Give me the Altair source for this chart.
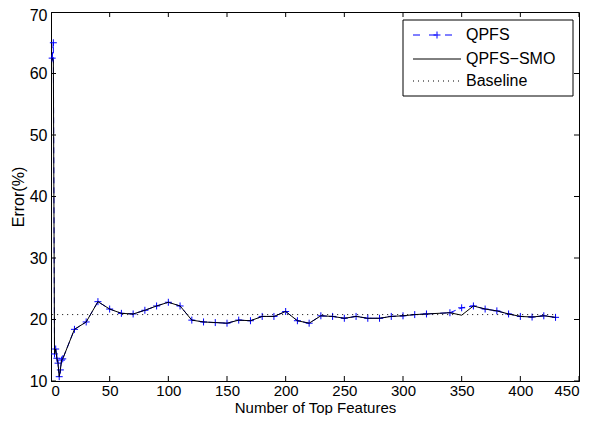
import altair as alt
import pandas as pd

# ---- data ----
features = [1, 2, 3, 4, 5, 6, 7, 8, 9, 10,
            20, 30, 40, 50, 60, 70, 80, 90, 100, 110,
            120, 130, 140, 150, 160, 170, 180, 190, 200, 210,
            220, 230, 240, 250, 260, 270, 280, 290, 300, 310, 320,
            340, 350, 360, 370, 380, 390, 400, 410, 420, 430]
qpfs = [62.5, 65.0, 14.4, 15.2, 13.7, 12.9, 10.7, 11.8, 13.4, 13.6,
        18.4, 19.6, 22.9, 21.7, 21.0, 20.9, 21.5, 22.2, 22.8, 22.2,
        19.9, 19.6, 19.5, 19.4, 19.9, 19.8, 20.5, 20.5, 21.3, 19.8,
        19.4, 20.6, 20.5, 20.2, 20.5, 20.2, 20.2, 20.5, 20.6, 20.8, 20.9,
        21.1, 21.9, 22.2, 21.7, 21.4, 20.9, 20.5, 20.4, 20.6, 20.35]
qpfs_smo = [62.5, 62.0, 14.4, 15.2, 13.7, 12.9, 10.7, 11.8, 13.4, 13.6,
            18.4, 19.6, 22.9, 21.7, 21.0, 20.9, 21.5, 22.2, 22.8, 22.2,
            19.9, 19.6, 19.5, 19.4, 19.9, 19.8, 20.5, 20.5, 21.3, 19.8,
            19.4, 20.6, 20.5, 20.2, 20.5, 20.2, 20.2, 20.5, 20.6, 20.8, 20.9,
            21.1, 20.7, 22.2, 21.7, 21.4, 20.9, 20.5, 20.4, 20.6, 20.35]
baseline_x = [1, 430]
baseline_y = [20.8, 20.8]
x_ticks = [0, 50, 100, 150, 200, 250, 300, 350, 400, 450]
y_ticks = [10, 20, 30, 40, 50, 60, 70]
legend_labels = ["QPFS", "QPFS\u2212SMO", "Baseline"]

FONT = "Liberation Sans"
W, H = 528, 369
PLUS = "M-1,0L1,0M0,-1L0,1"

df_q = pd.DataFrame({"x": features, "y": qpfs})
df_s = pd.DataFrame({"x": features, "y": qpfs_smo})
df_b = pd.DataFrame({"x": baseline_x, "y": baseline_y})

xs = alt.Scale(domain=[0, 450], nice=False)
ys = alt.Scale(domain=[10, 70], nice=False)
xax = alt.Axis(values=x_ticks, ticks=False, grid=False, title="Number of Top Features",
               labelPadding=2, titlePadding=2, labelFontSize=15, titleFontSize=15,
               domainColor="black")
yax = alt.Axis(values=y_ticks, ticks=False, grid=False, title="Error(%)",
               labelPadding=4, titlePadding=3, domainColor="black",
               labelOffset={"condition": {"test": "datum.value == 70", "value": 3}, "value": 0})

X = alt.X("x:Q", scale=xs, axis=xax)
Y = alt.Y("y:Q", scale=ys, axis=yax)

q_line = alt.Chart(df_q).mark_line(color="#0000ff", strokeWidth=1, strokeDash=[6, 4]).encode(x=X, y=Y)
q_pts = alt.Chart(df_q).mark_point(shape=PLUS, size=49, color="#0000ff", strokeWidth=1,
                                   filled=False, opacity=1).encode(x=X, y=Y)
s_line = alt.Chart(df_s).mark_line(color="black", strokeWidth=1).encode(x=X, y=Y)
b_line = alt.Chart(df_b).mark_line(color="black", strokeWidth=1, strokeDash=[1, 4]).encode(x=X, y=Y)

# inward ticks on all four sides (clipped half of centered ticks)
tb = pd.DataFrame({"x": x_ticks * 2, "y": [10] * len(x_ticks) + [70] * len(x_ticks)})
tl = pd.DataFrame({"y": y_ticks * 2, "x": [0] * len(y_ticks) + [450] * len(y_ticks)})
ticks_x = alt.Chart(tb).mark_tick(orient="vertical", size=10, thickness=1, color="black",
                                  clip=True, opacity=1).encode(x=X, y=Y)
ticks_y = alt.Chart(tl).mark_tick(orient="horizontal", size=10, thickness=1, color="black",
                                  clip=True, opacity=1).encode(x=X, y=Y)

# legend
one = alt.Data(values=[{"a": 1}])
lx0, lx1, ly0, ly1 = 352, 522, 8, 84
rows = [23, 47, 69]
box = alt.Chart(one).mark_rect(fill="white", stroke="black", strokeWidth=1).encode(
    x=alt.value(lx0), x2=alt.value(lx1), y=alt.value(ly0), y2=alt.value(ly1))
leg_q = alt.Chart(one).mark_rule(color="#0000ff", strokeWidth=1, strokeDash=[7, 9]).encode(
    x=alt.value(362), x2=alt.value(410), y=alt.value(rows[0]))
leg_qp = alt.Chart(one).mark_point(shape=PLUS, size=49, color="#0000ff", strokeWidth=1, opacity=1).encode(
    x=alt.value(386), y=alt.value(rows[0]))
leg_s = alt.Chart(one).mark_rule(color="black", strokeWidth=1).encode(
    x=alt.value(362), x2=alt.value(410), y=alt.value(rows[1]))
leg_b = alt.Chart(one).mark_rule(color="black", strokeWidth=1, strokeDash=[1, 4]).encode(
    x=alt.value(362), x2=alt.value(410), y=alt.value(rows[2]))
leg_txt = [
    alt.Chart(one).mark_text(text=lab, align="left", baseline="middle", fontSize=16,
                             font=FONT, color="black").encode(x=alt.value(415), y=alt.value(r))
    for lab, r in zip(legend_labels, rows)
]

chart = alt.layer(
    q_line, q_pts, s_line, b_line, ticks_x, ticks_y,
    box, leg_q, leg_qp, leg_s, leg_b, *leg_txt
).properties(
    width=W, height=H,
    autosize=alt.AutoSizeParams(type="none"),
    padding={"left": 43, "top": 4, "right": 4, "bottom": 34},
    background="white",
).configure_view(stroke="black", strokeWidth=1).configure_axis(
    labelFont=FONT, titleFont=FONT, labelFontSize=16, titleFontSize=16,
    labelColor="black", titleColor="black", titleFontWeight="normal", domainWidth=1,
)

chart.save("out.html", embed_options={"renderer": "svg", "actions": False})
